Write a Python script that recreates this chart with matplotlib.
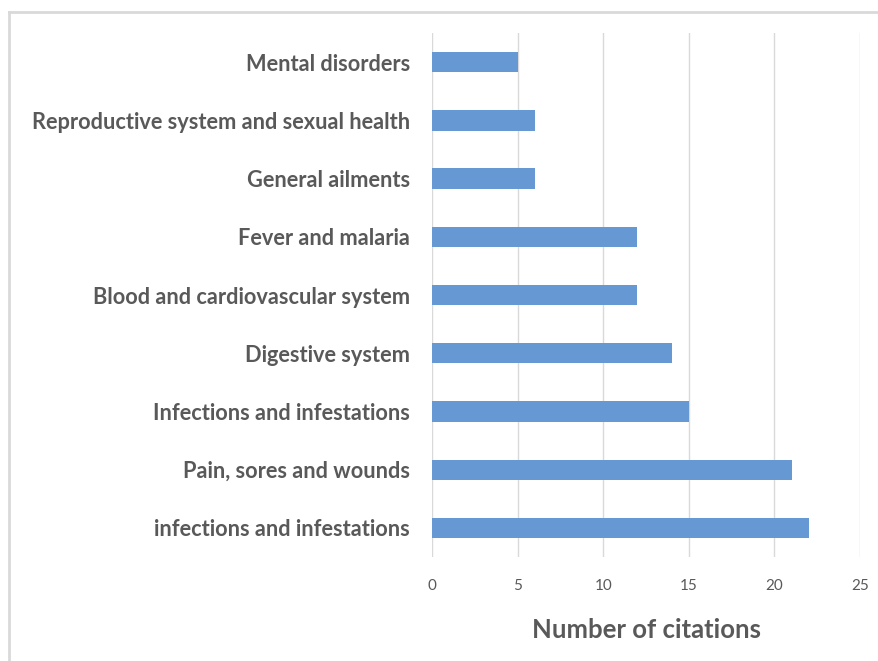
import matplotlib.pyplot as plt
from matplotlib.lines import Line2D

categories = ["infections and infestations", "Pain, sores and wounds", "Infections and infestations",
              "Digestive system", "Blood and cardiovascular system", "Fever and malaria",
              "General ailments", "Reproductive system and sexual health", "Mental disorders"]
citations = [22, 21, 15, 14, 12, 12, 6, 6, 5]
x_ticks = [0, 5, 10, 15, 20, 25]

plt.rcParams['font.family'] = ['Lato', 'DejaVu Sans']

fig = plt.figure(figsize=(8.79, 6.61), dpi=100)
ax = fig.add_axes([0.4915, 0.1573, 0.4869, 0.7927])

ax.barh(range(len(categories)), citations, height=0.35, color='#6699d4', zorder=3)
ax.set_ylim(-0.5, len(categories) - 0.5)
ax.set_xlim(0, 25)
ax.set_xticks(x_ticks)
ax.set_yticks(range(len(categories)))
ax.set_yticklabels(categories, fontsize=15.7, fontweight='bold', color='#595959')
ax.tick_params(axis='x', labelsize=11, labelcolor='#595959', length=0, pad=16)
ax.tick_params(axis='y', length=0, pad=16)
ax.grid(axis='x', color='#d9d9d9', linewidth=1, zorder=0)
for s in ax.spines.values():
    s.set_visible(False)
ax.set_xlabel('Number of citations', fontsize=18.5, fontweight='bold', color='#595959', labelpad=18)

# outer chart frame (only left and top edges show)
fig.add_artist(Line2D([9 / 879, 9 / 879], [0, 1 - 12 / 661], transform=fig.transFigure, color='#d9d9d9', lw=2))
fig.add_artist(Line2D([9 / 879, 1], [1 - 12 / 661, 1 - 12 / 661], transform=fig.transFigure, color='#d9d9d9', lw=2))

fig.savefig('out.png', dpi=100)
